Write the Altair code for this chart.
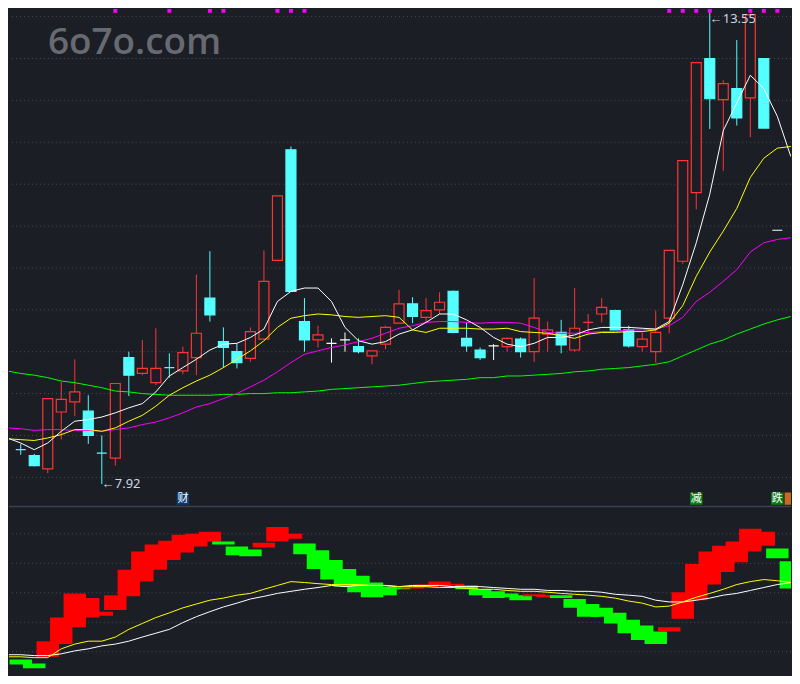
import altair as alt
import pandas as pd

BG = "#1b1e25"
RED = "#ff3434"
CYAN = "#54ffff"
WHITE = "#ffffff"
GRID = "#4a4e57"

W = 784
H_TOP = 498
H_BOT = 170

# ---------------- candles (index 0..56) ----------------
opens = [8.33, 8.26, 8.10, 8.78, 8.90, 8.79, 8.29, 8.23, 9.43, 9.24,
         9.13, 9.31, 9.27, 9.43, 10.14, 9.62, 9.50, 9.42, 9.65, 10.59,
         11.91, 9.86, 9.64, 9.60, 9.64, 9.56, 9.45, 9.59, 9.84, 10.07,
         9.91, 10.00, 10.22, 9.66, 9.52, 9.57, 9.56, 9.65, 9.50, 9.71,
         9.73, 9.52, 9.85, 9.95, 9.99, 9.76, 9.56, 9.50, 9.90, 10.58,
         11.40, 13.00, 12.51, 12.64, 12.53, 13.00, 10.95]
closes = [8.33, 8.14, 8.94, 8.93, 9.02, 8.50, 8.29, 9.12, 9.22, 9.30,
          9.30, 9.31, 9.49, 9.72, 9.94, 9.55, 9.37, 9.74, 10.34, 11.36,
          10.22, 9.64, 9.70, 9.60, 9.64, 9.50, 9.51, 9.79, 10.07, 9.92,
          9.99, 10.09, 9.73, 9.57, 9.43, 9.57, 9.66, 9.50, 9.90, 9.76,
          9.58, 9.78, 9.85, 10.03, 9.76, 9.57, 9.65, 9.73, 10.71, 11.78,
          12.95, 12.52, 12.70, 12.29, 13.52, 12.17, 10.95]
highs = [8.40, 8.28, 8.94, 9.14, 9.41, 8.98, 8.50, 9.12, 9.50, 9.64,
         9.78, 9.48, 9.56, 10.42, 10.70, 9.79, 9.60, 9.79, 10.71, 11.36,
         11.95, 10.14, 9.81, 9.66, 9.73, 9.66, 9.51, 9.81, 10.24, 10.15,
         10.14, 10.21, 10.23, 9.85, 9.55, 9.59, 9.67, 9.67, 10.38, 9.86,
         9.88, 10.26, 9.95, 10.14, 10.00, 9.81, 9.73, 9.99, 10.71, 11.78,
         12.95, 13.55, 12.74, 13.22, 13.52, 13.00, 10.95]
lows = [8.27, 8.13, 8.05, 8.45, 8.73, 8.40, 7.92, 8.14, 8.97, 9.22,
        9.10, 9.19, 9.23, 9.22, 9.86, 9.31, 9.30, 9.38, 9.65, 10.59,
        10.22, 9.50, 9.55, 9.37, 9.50, 9.48, 9.35, 9.53, 9.84, 9.84,
        9.84, 9.95, 9.72, 9.50, 9.40, 9.40, 9.50, 9.43, 9.38, 9.50,
        9.48, 9.50, 9.72, 9.85, 9.76, 9.55, 9.50, 9.37, 9.72, 10.55,
        11.20, 12.16, 11.66, 12.20, 12.06, 12.17, 10.95]
# r = up (hollow red), c = down (cyan), w = flat (white)
kinds = list("ccrrrccrcr" "rcrrcccrrr" "ccrwwcrrrc" "rrcccwrcrr" "crrrccrrrr" "rcrcrcw")

# ---------------- moving averages (index -1..57) ----------------
ma5 = [8.47, 8.41, 8.33, 8.41, 8.55, 8.67, 8.69, 8.72, 8.77, 8.83, 8.88,
       9.02, 9.21, 9.31, 9.41, 9.52, 9.59, 9.60, 9.67, 9.77, 10.10,
       10.22, 10.26, 10.26, 10.10, 9.79, 9.63, 9.59, 9.62, 9.71, 9.76,
       9.85, 9.95, 9.95, 9.88, 9.79, 9.67, 9.59, 9.56, 9.60, 9.67,
       9.67, 9.70, 9.76, 9.79, 9.79, 9.79, 9.78, 9.77, 9.86, 10.30,
       10.80, 11.38, 12.14, 12.47, 12.80, 12.64, 12.31, 11.83]
ma10 = [8.46, 8.45, 8.44, 8.47, 8.51, 8.57, 8.57, 8.55, 8.59, 8.67, 8.74,
        8.85, 8.98, 9.07, 9.15, 9.22, 9.31, 9.41, 9.51, 9.63, 9.79,
        9.90, 9.93, 9.95, 9.94, 9.92, 9.91, 9.92, 9.93, 9.91, 9.76,
        9.73, 9.78, 9.78, 9.78, 9.77, 9.77, 9.78, 9.74, 9.73, 9.72,
        9.69, 9.66, 9.71, 9.73, 9.73, 9.74, 9.74, 9.76, 9.84, 10.05,
        10.40, 10.69, 10.94, 11.21, 11.58, 11.81, 11.93, 11.95]
ma20 = [8.59, 8.58, 8.56, 8.57, 8.57, 8.56, 8.56, 8.55, 8.57, 8.59, 8.63,
        8.66, 8.71, 8.77, 8.84, 8.88, 8.94, 9.00, 9.08, 9.16, 9.26,
        9.37, 9.47, 9.51, 9.55, 9.58, 9.62, 9.66, 9.72, 9.78, 9.81,
        9.85, 9.86, 9.86, 9.85, 9.84, 9.85, 9.85, 9.84, 9.79, 9.73,
        9.72, 9.72, 9.73, 9.74, 9.74, 9.76, 9.76, 9.77, 9.81, 9.91,
        10.10, 10.21, 10.34, 10.48, 10.69, 10.80, 10.84, 10.86]
ma60 = [9.27, 9.24, 9.22, 9.19, 9.15, 9.13, 9.10, 9.07, 9.03, 9.02, 9.00,
        8.99, 8.98, 8.98, 8.98, 8.98, 8.99, 8.99, 9.00, 9.00, 9.01,
        9.01, 9.02, 9.03, 9.05, 9.06, 9.07, 9.08, 9.09, 9.10, 9.12,
        9.14, 9.15, 9.16, 9.17, 9.19, 9.19, 9.21, 9.21, 9.22, 9.23,
        9.24, 9.26, 9.27, 9.29, 9.30, 9.31, 9.33, 9.35, 9.38, 9.45,
        9.52, 9.59, 9.64, 9.71, 9.77, 9.83, 9.88, 9.92]

price_grid = [8.0, 8.5, 9.0, 9.5, 10.0, 10.5, 11.0, 11.5, 12.0, 12.5, 13.0, 13.5]
signal_idx = [7, 11, 14, 15, 19, 20, 21, 48, 49, 50, 51, 54, 55, 56]
tag_idx = [12, 50, 56, 57]
tag_text = ["财", "减", "跌", ""]
tag_kind = ["blue", "green", "green", "orange"]

# ---------------- lower indicator (index 0..57) ----------------
blk_top = [-0.26, -0.40, 0.36, 1.16, 1.98, 1.82, 1.36, 1.92, 2.78, 3.40,
           3.64, 3.77, 3.97, 4.00, 4.07, 3.74, 3.57, 3.47, 3.70, 4.23,
           4.00, 3.67, 3.44, 3.11, 2.81, 2.58, 2.35, 2.21, 2.18, 2.21,
           2.28, 2.38, 2.31, 2.25, 2.12, 2.05, 1.98, 1.92, 1.95, 1.92,
           1.92, 1.79, 1.62, 1.49, 1.32, 1.09, 0.89, 0.69, 0.83, 2.02,
           2.98, 3.40, 3.60, 3.74, 4.17, 4.07, 3.50, 3.07]
blk_bot = [-0.43, -0.56, -0.17, 0.26, 0.83, 1.16, 1.22, 1.42, 1.88, 2.38,
           2.78, 3.11, 3.37, 3.57, 3.74, 3.64, 3.27, 3.24, 3.54, 3.74,
           3.83, 3.31, 2.81, 2.45, 2.21, 2.02, 1.85, 1.92, 2.12, 2.15,
           2.18, 2.21, 2.25, 2.12, 1.92, 1.82, 1.85, 1.75, 1.88, 1.85,
           1.82, 1.49, 1.19, 1.19, 0.96, 0.63, 0.40, 0.26, 0.69, 1.12,
           1.75, 2.28, 2.71, 3.04, 3.40, 3.60, 3.17, 2.15]
blk_dir = list("ggrrrrrrrr" "rrrrrgggrr" "rggggggggr" "rrrgggggrr" "ggggggggrr" "rrrrrrgg")

osc_white = [-0.10, -0.10, -0.13, -0.13, -0.07, 0.03, 0.10, 0.20, 0.26, 0.36, 0.50,
             0.63, 0.76, 0.99, 1.19, 1.36, 1.52, 1.65, 1.79, 1.88, 1.98,
             2.05, 2.12, 2.18, 2.25, 2.21, 2.25, 2.25, 2.25, 2.21, 2.25,
             2.25, 2.25, 2.21, 2.21, 2.21, 2.18, 2.15, 2.12, 2.12, 2.08,
             2.08, 2.05, 2.05, 2.02, 1.95, 1.92, 1.88, 1.75, 1.69, 1.69,
             1.75, 1.82, 1.92, 1.98, 2.08, 2.18, 2.28, 2.35]
osc_yellow = [-0.17, -0.17, -0.20, -0.20, 0.10, 0.26, 0.36, 0.36, 0.50, 0.76, 0.96,
              1.16, 1.32, 1.49, 1.62, 1.75, 1.82, 1.92, 1.98, 2.12, 2.25,
              2.38, 2.35, 2.31, 2.28, 2.28, 2.28, 2.25, 2.25, 2.21, 2.21,
              2.21, 2.18, 2.18, 2.15, 2.12, 2.12, 2.08, 2.05, 2.05, 2.02,
              1.98, 1.95, 1.92, 1.88, 1.82, 1.72, 1.65, 1.52, 1.55, 1.69,
              1.85, 1.98, 2.12, 2.28, 2.38, 2.45, 2.41, 2.35]
osc_grid = [0, 1, 2, 3, 4]

# ---------------- data frames ----------------
stroke_of = {"r": RED, "c": CYAN, "w": WHITE}
fill_of = {"r": BG, "c": CYAN, "w": WHITE}
cdf = pd.DataFrame({"i": list(range(len(opens))), "o": opens, "c": closes,
                    "h": highs, "l": lows, "k": kinds})
cdf["top"] = cdf[["o", "c"]].max(axis=1)
cdf["bot"] = cdf[["o", "c"]].min(axis=1)
cdf["sc"] = cdf["k"].map(stroke_of)
cdf["fc"] = cdf["k"].map(fill_of)

mdf = pd.DataFrame({"i": list(range(-1, 58)), "ma5": ma5, "ma10": ma10,
                    "ma20": ma20, "ma60": ma60,
                    "ow": osc_white, "oy": osc_yellow})

bdf = pd.DataFrame({"i": list(range(len(blk_top))), "t": blk_top, "b": blk_bot, "d": blk_dir})
bdf["col"] = bdf["d"].map({"r": "#ff0000", "g": "#00ff00"})

tag_colors = {"blue": "#0a3d73", "green": "#0b7d14", "orange": "#c86a1e"}
tdf = pd.DataFrame({"i": tag_idx, "t": tag_text, "k": tag_kind})
tdf["col"] = tdf["k"].map(tag_colors)

sdf = pd.DataFrame({"i": signal_idx})
gdf = pd.DataFrame({"g": price_grid})
ogdf = pd.DataFrame({"g": osc_grid})

lo_i = int(pd.Series(lows).idxmin())
hi_i = int(pd.Series(highs).idxmax())
ldf = pd.DataFrame({"i": [lo_i, hi_i], "p": [lows[lo_i], highs[hi_i]],
                    "txt": ["←%.2f" % lows[lo_i], "←%.2f" % highs[hi_i]],
                    "pos": ["low", "high"]})

# ---------------- scales ----------------
XS = alt.Scale(domain=[-0.5, 56.643], nice=False, zero=False)
YT = alt.Scale(domain=[7.6628, 13.593], nice=False, zero=False)
YB = alt.Scale(domain=[-0.793, 4.959], nice=False, zero=False)


def X(field="i"):
    return alt.X(f"{field}:Q", scale=XS, axis=None)


def YTop(field):
    return alt.Y(f"{field}:Q", scale=YT, axis=None)


def YBot(field):
    return alt.Y(f"{field}:Q", scale=YB, axis=None)


# ---------------- top panel ----------------
grid_top = alt.Chart(gdf).mark_rule(color=GRID, strokeDash=[1, 3], strokeWidth=1).encode(y=YTop("g"))

wicks = alt.Chart(cdf).mark_rule(strokeWidth=1).encode(
    x=X(), y=YTop("l"), y2="h:Q", color=alt.Color("sc:N", scale=None))

bodies = alt.Chart(cdf).mark_bar(size=10, strokeWidth=1.2).encode(
    x=X(), y=YTop("bot"), y2="top:Q",
    stroke=alt.Stroke("sc:N", scale=None), fill=alt.Fill("fc:N", scale=None))

lines_top = [
    alt.Chart(mdf).mark_line(color=c, strokeWidth=1, clip=True).encode(x=X(), y=YTop(f))
    for f, c in [("ma60", "#00ff00"), ("ma20", "#ff00ff"), ("ma10", "#ffff00"), ("ma5", "#ffffff")]
]

sig = alt.Chart(sdf).mark_square(size=16, color="#ff00ff", opacity=1, clip=True).encode(
    x=X(), y=alt.value(2))

tag_box = alt.Chart(tdf).mark_square(size=155, opacity=1, clip=True).encode(
    x=X(), y=alt.value(491), color=alt.Color("col:N", scale=None))
tag_txt = alt.Chart(tdf).mark_text(font="Noto Sans CJK SC", fontSize=11, color="#ffffff",
                                   baseline="middle", align="center").encode(
    x=X(), y=alt.value(491), text="t:N")

low_lbl = alt.Chart(ldf).transform_filter(alt.datum.pos == "low").mark_text(
    align="left", baseline="middle", fontSize=13, font="Noto Sans", color="#cfd6e4").encode(
    x=X(), y=YTop("p"), text="txt:N")
high_lbl = alt.Chart(ldf).transform_filter(alt.datum.pos == "high").mark_text(
    align="left", baseline="top", fontSize=13, font="Noto Sans", color="#cfd6e4", dy=1).encode(
    x=X(), y=YTop("p"), text="txt:N")

wm = alt.Chart(pd.DataFrame({"t": ["6o7o.com"]})).mark_text(
    font="Open Sans", fontSize=37, fontWeight=600, color="#676a71",
    align="left", baseline="alphabetic").encode(
    x=alt.value(39), y=alt.value(45), text="t:N")

top = alt.layer(grid_top, wicks, bodies, *lines_top, sig, tag_box, tag_txt,
                low_lbl, high_lbl, wm).properties(width=W, height=H_TOP)

# ---------------- bottom panel ----------------
grid_bot = alt.Chart(ogdf).mark_rule(color=GRID, strokeDash=[1, 3], strokeWidth=1).encode(y=YBot("g"))
sep = alt.Chart(pd.DataFrame({"a": [0]})).mark_rule(color="#3a4150", strokeWidth=1.5).encode(
    y=alt.value(1))
blocks = alt.Chart(bdf).mark_bar(size=22.5, clip=True).encode(
    x=X(), y=YBot("b"), y2="t:Q", color=alt.Color("col:N", scale=None))
osc_lines = [
    alt.Chart(mdf).mark_line(color=c, strokeWidth=1, clip=True).encode(x=X(), y=YBot(f))
    for f, c in [("ow", "#ffffff"), ("oy", "#ffff00")]
]

bottom = alt.layer(grid_bot, sep, blocks, *osc_lines).properties(width=W, height=H_BOT)

chart = alt.vconcat(top, bottom, spacing=0).properties(
    background=BG, padding=0).configure_view(stroke=None)

chart.save("out.html", embed_options={"renderer": "svg", "actions": False})
